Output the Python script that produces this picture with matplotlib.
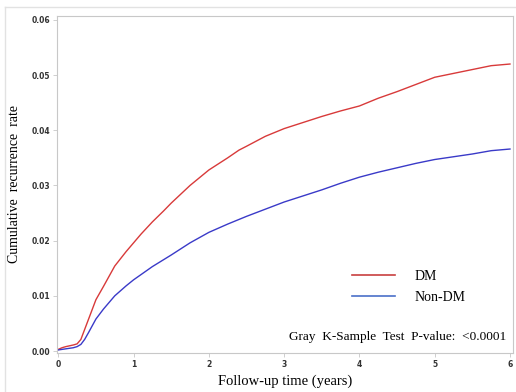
import matplotlib
matplotlib.use("Agg")
import matplotlib.pyplot as plt
from matplotlib.lines import Line2D

# Data
time_dm = [0.0, 0.05, 0.1, 0.2, 0.25, 0.3, 0.35, 0.4, 0.5, 0.6, 0.75, 0.9, 1.0, 1.1, 1.25, 1.4, 1.5, 1.75, 2.0, 2.25, 2.4, 2.5, 2.75, 3.0, 3.25, 3.5, 3.75, 4.0, 4.25, 4.5, 4.75, 5.0, 5.25, 5.5, 5.75, 6.0]
rate_dm = [0.0003, 0.0006, 0.0008, 0.0011, 0.0013, 0.0021, 0.0039, 0.0057, 0.0093, 0.0117, 0.0154, 0.0180, 0.0196, 0.0212, 0.0234, 0.0254, 0.0268, 0.0300, 0.0328, 0.0350, 0.0364, 0.0371, 0.0389, 0.0403, 0.0414, 0.0425, 0.0435, 0.0444, 0.0458, 0.0470, 0.0483, 0.0496, 0.0503, 0.0510, 0.0517, 0.0520]

time_non = [0.0, 0.1, 0.2, 0.25, 0.3, 0.35, 0.4, 0.5, 0.6, 0.75, 0.9, 1.0, 1.25, 1.5, 1.75, 2.0, 2.25, 2.5, 2.75, 3.0, 3.25, 3.5, 3.75, 4.0, 4.25, 4.5, 4.75, 5.0, 5.25, 5.5, 5.75, 6.0]
rate_non = [0.0002, 0.0004, 0.0006, 0.0008, 0.0012, 0.0021, 0.0033, 0.0058, 0.0076, 0.0100, 0.0118, 0.0129, 0.0153, 0.0174, 0.0196, 0.0215, 0.0230, 0.0244, 0.0257, 0.0270, 0.0281, 0.0292, 0.0304, 0.0315, 0.0324, 0.0332, 0.0340, 0.0347, 0.0352, 0.0357, 0.0363, 0.0366]

xticks = [0, 1, 2, 3, 4, 5, 6]
yticks = [0.00, 0.01, 0.02, 0.03, 0.04, 0.05, 0.06]
series_labels = ["DM", "Non-DM"]

serif = ["Liberation Serif", "DejaVu Serif"]

fig = plt.figure(figsize=(5.16, 3.92), dpi=100)
fig.patch.set_facecolor("white")
W, H = 516, 392
ax = fig.add_axes([57.3 / W, 1 - 352.7 / H, (513 - 57.3) / W, (352.7 - 16) / H])

ax.plot(time_dm, rate_dm, color="#d83a3a", lw=1.0)
ax.plot(time_non, rate_non, color="#3a3ac8", lw=1.0)

ax.set_xlim(-0.013, 6.04)
ax.set_ylim(-0.0003, 0.0607)
ax.set_xticks(xticks)
ax.set_xticklabels([str(t) for t in xticks])
ax.set_yticks(yticks)
ax.set_yticklabels([f"{v:.2f}" for v in yticks])
ax.tick_params(axis="both", labelsize=5.5, colors="#c8c8c8", labelcolor="#333333", length=3, width=0.6, pad=2)
for lbl in ax.get_xticklabels() + ax.get_yticklabels():
    lbl.set_fontweight("bold")
for s in ax.spines.values():
    s.set_color("#c8c8c8")
    s.set_linewidth(0.8)

ax.set_xlabel("Follow-up time (years)", fontfamily=serif, fontsize=10.5, labelpad=4)
ax.set_ylabel("Cumulative  recurrence  rate", fontfamily=serif, fontsize=10, labelpad=8)

handles = [Line2D([0], [0], color="#c84040", lw=1.2),
           Line2D([0], [0], color="#4a70c8", lw=1.2)]
leg = ax.legend(handles, series_labels, loc="upper left", bbox_to_anchor=(0.62, 0.283),
                frameon=False, prop={"family": serif, "size": 10},
                handlelength=3.1, handletextpad=1.4, labelspacing=0.55)

ax.text(0.986, 0.046, "Gray  K-Sample  Test  P-value:  <0.0001", transform=ax.transAxes,
        ha="right", va="center", fontfamily=serif, fontsize=9.5)

# Outer light frame (top and left)
fig.add_artist(Line2D([5 / W, 5 / W], [0, 1 - 7 / H], transform=fig.transFigure, color="#e2e2e2", lw=1))
fig.add_artist(Line2D([5 / W, 1], [1 - 7 / H, 1 - 7 / H], transform=fig.transFigure, color="#e2e2e2", lw=1))

fig.savefig("out.png", dpi=100)
